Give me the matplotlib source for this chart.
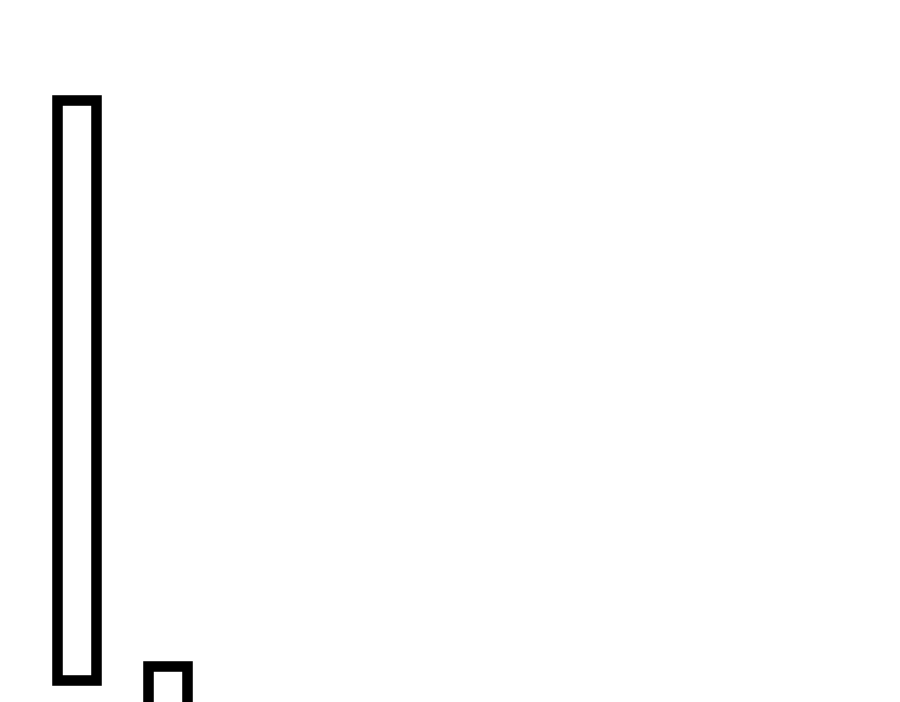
import matplotlib
matplotlib.use("Agg")
import matplotlib.pyplot as plt

# bar data (in pixel-like units from the bottom)
categories = [0, 1]
heights = [580.5, 76.5]
bottoms = [22, -40]

fig = plt.figure(figsize=(9, 7.02), dpi=100)
ax = fig.add_axes([0, 0, 1, 1])

ax.bar(categories, heights, bottom=bottoms, width=0.42,
       facecolor='white', edgecolor='black', linewidth=7.6)

ax.set_xlim(-0.841, -0.841 + 900 / 91)
ax.set_ylim(0, 702)
ax.axis('off')

fig.savefig('out.png', dpi=100, facecolor='white')
